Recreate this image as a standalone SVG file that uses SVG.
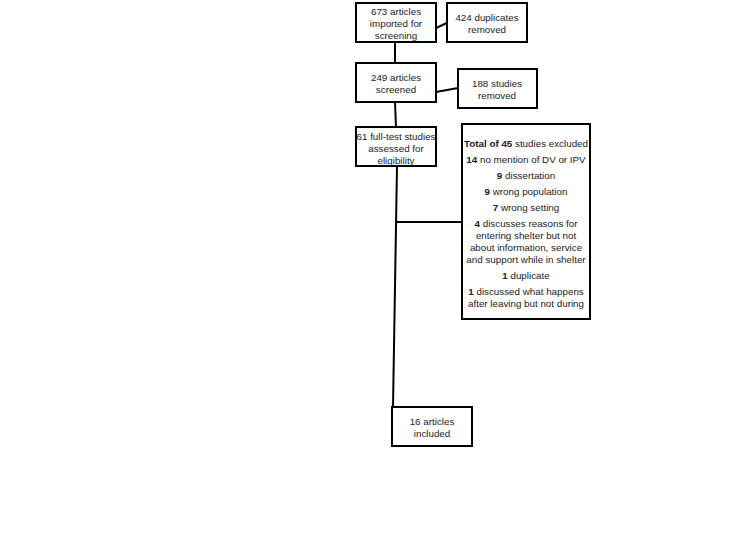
<svg xmlns="http://www.w3.org/2000/svg" width="744" height="535" viewBox="0 0 744 535">
<style>
rect{fill:#fff;stroke:#000;stroke-width:2}
line{stroke:#000;stroke-width:2}
text{font-family:"Liberation Sans",Arial,sans-serif;font-size:9.8px;text-anchor:middle;fill:#222}
.b{font-weight:bold}
</style>
<rect width="744" height="535" style="fill:#fff;stroke:none"/>
<g id="connectors">
<line x1="436" y1="28" x2="447" y2="23"/>
<line x1="395" y1="42" x2="395" y2="63"/>
<line x1="436" y1="92" x2="458" y2="88"/>
<line x1="395" y1="102" x2="396" y2="127"/>
<line x1="397" y1="166" x2="393" y2="407"/>
<line x1="397" y1="222" x2="462" y2="222"/>
</g>
<g id="n1"><rect x="356" y="3" width="80" height="39"/>
<text x="396" y="15">673 articles</text><text x="396" y="27">imported for</text><text x="396" y="39">screening</text></g>
<g id="n2"><rect x="447" y="3" width="80" height="39"/>
<text x="487" y="21">424 duplicates</text><text x="487" y="33">removed</text></g>
<g id="n3"><rect x="356" y="63" width="80" height="39"/>
<text x="396" y="81">249 articles</text><text x="396" y="93">screened</text></g>
<g id="n4"><rect x="458" y="69" width="79" height="39"/>
<text x="497" y="87">188 studies</text><text x="497" y="99">removed</text></g>
<g id="n5"><rect x="356" y="127" width="80" height="39"/>
<text x="396" y="140">61 full-test studies</text><text x="396" y="152">assessed for</text><text x="396" y="164">eligibility</text></g>
<g id="n6"><rect x="462" y="124" width="128" height="195"/>
<text x="526" y="147"><tspan class="b">Total of 45</tspan>  studies excluded</text>
<text x="526" y="163"><tspan class="b">14</tspan> no mention of DV or IPV</text>
<text x="526" y="179"><tspan class="b">9</tspan> dissertation</text>
<text x="526" y="195"><tspan class="b">9</tspan> wrong population</text>
<text x="526" y="211"><tspan class="b">7</tspan> wrong setting</text>
<text x="526" y="227"><tspan class="b">4</tspan> discusses reasons for</text>
<text x="526" y="239">entering shelter but not</text>
<text x="526" y="251">about information, service</text>
<text x="526" y="263">and support while in shelter</text>
<text x="526" y="279"><tspan class="b">1</tspan> duplicate</text>
<text x="526" y="295"><tspan class="b">1</tspan> discussed what happens</text>
<text x="526" y="307">after leaving but not during</text></g>
<g id="n7"><rect x="392" y="407" width="80" height="39"/>
<text x="432" y="425">16 articles</text><text x="432" y="437">included</text></g>
</svg>
